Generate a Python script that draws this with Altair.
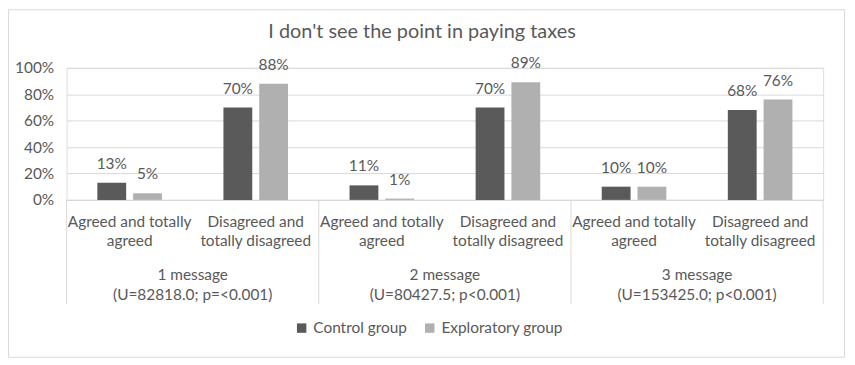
import altair as alt
import pandas as pd

title_text = "I don't see the point in paying taxes"
groups = ["1 message\n(U=82818.0; p=<0.001)",
          "2 message\n(U=80427.5; p<0.001)",
          "3 message\n(U=153425.0; p<0.001)"]
categories = ["Agreed and totally\nagreed", "Disagreed and\ntotally disagreed"]
series = ["Control group", "Exploratory group"]
control = [13, 70, 11, 70, 10, 68]
exploratory = [5, 88, 1, 89, 10, 76]
colors = ["#5A5A5A", "#B0B0B0"]
yticks = [0, 20, 40, 60, 80, 100]

keys = []
cat_rows = []
for gi, g in enumerate(groups):
    for ci, c in enumerate(categories):
        k = f"g{gi}c{ci}"
        keys.append(k)
        cat_rows.append({"key": k, "label": c, "group": g, "gi": gi, "ci": ci})
cats = pd.DataFrame(cat_rows)

rows = []
for i, k in enumerate(keys):
    rows.append({"key": k, "series": series[0], "value": control[i], "txt": f"{control[i]}%"})
    rows.append({"key": k, "series": series[1], "value": exploratory[i], "txt": f"{exploratory[i]}%"})
df = pd.DataFrame(rows)

W, H = 762, 133
FONT = "Lato"
FS = 15.5
TXT = "#595959"

xscale = alt.Scale(domain=keys, paddingInner=0, paddingOuter=0)
yscale = alt.Scale(domain=[0, 100], nice=False)
offscale = alt.Scale(domain=series, paddingInner=0.194, paddingOuter=0.86)

xaxis = alt.Axis(title=None, labels=False, ticks=False, domain=True,
                 domainColor="#D9D9D9", grid=False)
yaxis = alt.Axis(title=None, values=yticks, labelExpr="datum.value + '%'",
                 ticks=False, domain=False, grid=True, gridColor="#D9D9D9",
                 labelColor=TXT, labelFontSize=FS, labelFont=FONT, labelPadding=13,
                 labelOverlap=False)

X = lambda **kw: alt.X("key:N", scale=xscale, sort=keys, axis=xaxis, **kw)

base = alt.Chart(df)

bars = base.mark_bar().encode(
    x=X(),
    xOffset=alt.XOffset("series:N", scale=offscale, sort=series),
    y=alt.Y("value:Q", scale=yscale, axis=yaxis),
    color=alt.Color("series:N", sort=series,
                    scale=alt.Scale(domain=series, range=colors),
                    legend=alt.Legend(title=None, orient="none", direction="horizontal",
                                      legendX=229, legendY=254, symbolType="square",
                                      symbolSize=90, symbolStrokeWidth=0,
                                      labelFontSize=FS, labelFont=FONT, labelColor=TXT,
                                      columnPadding=15, labelOffset=4)),
)

labels = base.mark_text(dy=-11, fontSize=FS, font=FONT, color=TXT, baseline="bottom").encode(
    x=X(),
    xOffset=alt.XOffset("series:N", scale=offscale, sort=series),
    y=alt.Y("value:Q", scale=yscale, axis=yaxis),
    text="txt:N",
)

cat_text = alt.Chart(cats).mark_text(lineBreak="\n", baseline="top", fontSize=FS,
                                     font=FONT, color=TXT, lineHeight=19.5).encode(
    x=X(),
    y=alt.value(H + 15),
    text="label:N",
)

grp_text = alt.Chart(cats[cats.ci == 1]).mark_text(lineBreak="\n", baseline="top", fontSize=FS,
                                                   font=FONT, color=TXT, lineHeight=19.5).encode(
    x=X(bandPosition=0),
    y=alt.value(H + 69),
    text="group:N",
)

sep_left = alt.Chart(cats[cats.ci == 0]).mark_rule(color="#D9D9D9").encode(
    x=X(bandPosition=0),
    y=alt.value(H),
    y2=alt.value(H + 105),
)
sep_right = alt.Chart(cats[cats.key == keys[-1]]).mark_rule(color="#D9D9D9").encode(
    x=X(bandPosition=1),
    y=alt.value(H),
    y2=alt.value(H + 105),
)

frame = alt.Chart(cats.head(1)).mark_rect(fill=None, stroke="#D9D9D9", strokeWidth=1).encode(
    x=alt.value(-58.5), x2=alt.value(783.5), y=alt.value(-58.5), y2=alt.value(291.5),
)

title = alt.Chart(pd.DataFrame({"t": [title_text]})).mark_text(
    fontSize=20, font=FONT, color=TXT, baseline="alphabetic", align="center").encode(
    x=alt.value(358), y=alt.value(-30), text="t:N",
)

chart = alt.layer(bars, labels, cat_text, grp_text, sep_left, sep_right, frame, title).properties(
    width=W, height=H,
    autosize=alt.AutoSizeParams(type="none"),
    padding={"left": 59, "top": 59, "right": 24, "bottom": 160},
).configure_view(stroke=None).configure(background="white")

chart.save("out.html", embed_options={"renderer": "svg", "actions": False})
